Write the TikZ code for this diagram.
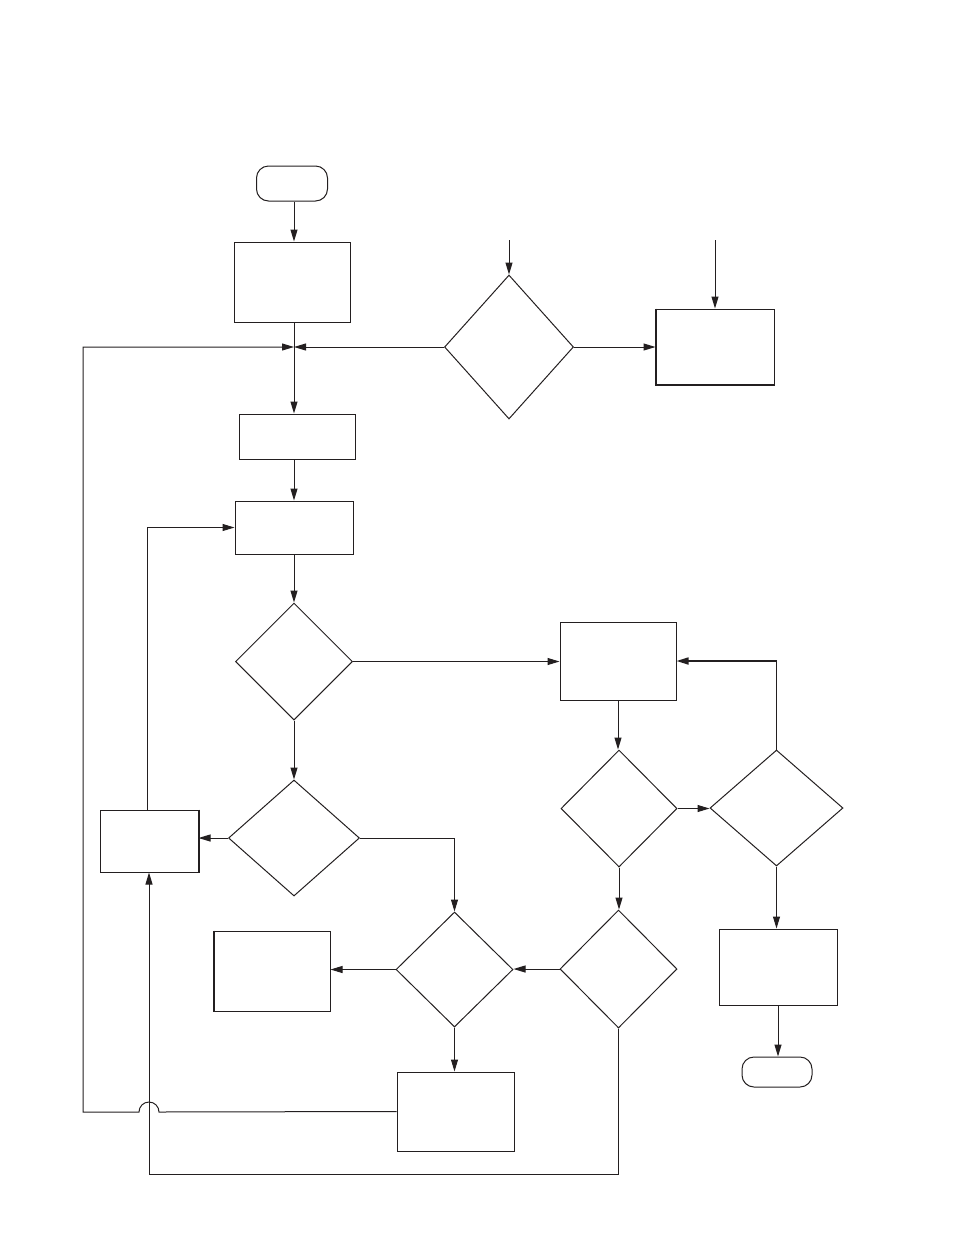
\documentclass[tikz,border=0pt]{standalone}
\usetikzlibrary{shapes.geometric,arrows.meta}
\definecolor{ink}{HTML}{231F20}
\begin{document}
\begin{tikzpicture}[x=1pt,y=-1pt,line width=1pt,draw=ink,
  proc/.style={draw=ink,rectangle,inner sep=0pt},
  dec/.style={draw=ink,diamond,inner sep=0pt},
  term/.style={draw=ink,rectangle,rounded corners=12pt,inner sep=0pt},
  arr/.style={-{Triangle[length=12pt,width=7pt]}},
  heavy/.style={line width=2pt}]
\useasboundingbox (0,0) rectangle (954,1235);
% nodes
\node[term,minimum width=71pt,minimum height=35pt] (start) at (292,183.5) {};
\node[proc,minimum width=116pt,minimum height=80pt] (b1) at (292,282) {};
\node[dec,minimum width=129pt,minimum height=144pt] (d1) at (509,347) {};
\node[proc,minimum width=118pt,minimum height=75pt] (b9) at (715,346.5) {};
\node[proc,minimum width=116pt,minimum height=45pt] (b2) at (297,436.5) {};
\node[proc,minimum width=118pt,minimum height=53pt] (b3) at (294,527.5) {};
\node[dec,minimum width=117pt,minimum height=117pt] (d2) at (294,661.5) {};
\node[proc,minimum width=116pt,minimum height=78pt] (b5) at (618,661) {};
\node[dec,minimum width=116pt,minimum height=117pt] (d4) at (619,808.5) {};
\node[dec,minimum width=133pt,minimum height=116pt] (d5) at (776.5,808) {};
\node[proc,minimum width=118pt,minimum height=76pt] (b6) at (778,967) {};
\node[term,minimum width=70pt,minimum height=30pt] (end) at (777,1072) {};
\node[dec,minimum width=131pt,minimum height=116pt] (d3) at (294,838) {};
\node[proc,minimum width=98pt,minimum height=62pt] (b4) at (149,841) {};
\node[dec,minimum width=117pt,minimum height=115pt] (d6) at (454.5,969.5) {};
\node[proc,minimum width=116pt,minimum height=80pt] (b7) at (272,971) {};
\node[dec,minimum width=117pt,minimum height=118pt] (d7) at (618.5,969) {};
\node[proc,minimum width=117pt,minimum height=79pt] (b8) at (455.5,1111.5) {};
% heavier edges
\draw[heavy] (b9.north west) -- (b9.south west) -- (b9.south east);
\draw[heavy] (b7.north west) -- (b7.south west);
\draw[heavy] (b4.north east) -- (b4.south east);
% free ends / corners
\coordinate (t1) at (509,240);
\coordinate (t2) at (715,240);
\coordinate (j) at (294,347);
\coordinate (lft) at (83,1112);
\coordinate (bot) at (617,1174);
% connectors
\draw[arr] (start.south -| 294,0) -- (b1.north -| 294,0);
\draw[arr] (b1.south -| j) -- (b2.north -| j);
\draw[arr] (d1.west) -- (j);
\draw[arr] (t1) -- (d1.north);
\draw[arr] (t2) -- (b9.north -| t2);
\draw[arr] (d1.east) -- (d1.east -| b9.west);
\draw[arr] (b8.west) -- ([xshift=10pt]b4.south |- lft) arc[start angle=0,end angle=180,radius=10pt] -- (lft) -- (lft |- j) -- (j);
\draw[arr] (b2.south -| 294,0) -- (b3.north -| 294,0);
\draw[arr] (b4.north -| 147,0) -- (147,527.5) -- (b3.west);
\draw[arr] (b3.south -| 294,0) -- (d2.north);
\draw[arr] (d2.east) -- (d2.east -| b5.west);
\draw[arr] (b5.south) -- (b5.south |- d4.north);
\draw[arr] (d4.east) -- (d4.east -| d5.west);
\draw[arr,line width=1.6pt] (d5.north) -- (d5.north |- b5.east) -- (b5.east);
\draw[arr] (d5.south) -- (d5.south |- b6.north);
\draw[arr] (b6.south) -- (end.north -| b6.south);
\draw[arr] (d2.south) -- (d3.north);
\draw[arr] (d3.west) -- (d3.west -| b4.east);
\draw[arr] (d3.east) -- (d3.east -| d6.north) -- (d6.north);
\draw[arr] (d6.west) -- (d6.west -| b7.east);
\draw[arr] (d6.south) -- (b8.north -| d6.south);
\draw[arr] (d4.south) -- (d4.south |- d7.north);
\draw[arr] (d7.west) -- (d7.west -| d6.east);
\draw[arr] (d7.south) -- (d7.south |- bot) -- (b4.south |- bot) -- (b4.south);
\end{tikzpicture}
\end{document}
